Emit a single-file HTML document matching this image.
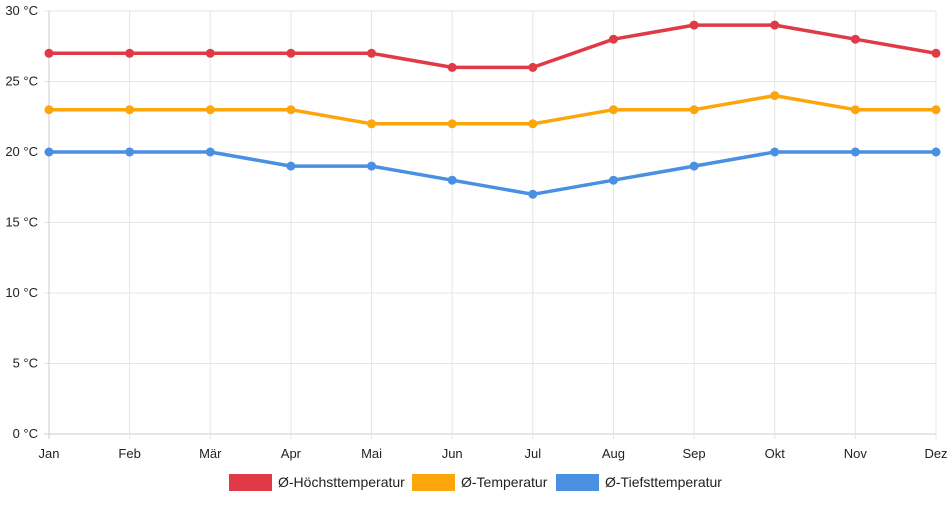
<!DOCTYPE html>
<html><head><meta charset="utf-8"><style>
body{margin:0;background:#fff;font-family:"Liberation Sans",sans-serif;}
svg text{font-family:"Liberation Sans",sans-serif;font-size:13px;fill:#222;}
</style></head><body>
<svg id="c" width="952" height="500"></svg>
<script>
const months=["Jan","Feb","Mär","Apr","Mai","Jun","Jul","Aug","Sep","Okt","Nov","Dez"];
const highs=[27,27,27,27,27,26,26,28,29,29,28,27];
const avgs=[23,23,23,23,22,22,22,23,23,24,23,23];
const lows=[20,20,20,19,19,18,17,18,19,20,20,20];
const yTicks=[0,5,10,15,20,25,30];
const seriesNames=["Ø-Höchsttemperatur","Ø-Temperatur","Ø-Tiefsttemperatur"];
const NS="http://www.w3.org/2000/svg";
const svg=document.getElementById('c');
const x0=49,x1=936,y0=434,y1=11;
const xs=i=>x0+(x1-x0)*i/(months.length-1);
const ys=v=>y0-(y0-y1)*v/30;
function mk(t,a,p){const e=document.createElementNS(NS,t);for(const k in a)e.setAttribute(k,a[k]);(p||svg).appendChild(e);return e;}
yTicks.forEach(v=>{
 const l=mk('line',{x1:x0-5,x2:x1,y1:ys(v),y2:ys(v),stroke:v===0?'#ccc':'#e5e5e5'});
 
 
 const t=mk('text',{x:x0-11,y:ys(v)+4,'text-anchor':'end'});t.textContent=v+' °C';
 
 
});
months.forEach((m,i)=>{
 const l=mk('line',{x1:xs(i),x2:xs(i),y1:y1,y2:y0+5,stroke:i===0?'#ccc':'#e5e5e5'});
 
 
 const t=mk('text',{x:xs(i),y:y0+24,'text-anchor':'middle'});t.textContent=m;
 
 
});
const series=[[highs,'#e03a47'],[avgs,'#fca60c'],[lows,'#4a90e2']];
series.forEach(([d,c],si)=>{
 const p=mk('polyline',{points:d.map((v,i)=>xs(i)+','+ys(v)).join(' '),fill:'none',stroke:c,'stroke-width':3.5,'stroke-linejoin':'round'});
 
 
 d.forEach((v,i)=>{const pt=mk('circle',{cx:xs(i),cy:ys(v),r:4.5,fill:c});
  
  });
});
const lx=[229,412,556];
series.forEach(([d,c],si)=>{
 const g=mk('g',{});
 
 
 mk('rect',{x:lx[si],y:474,width:43,height:17,fill:c},g);
 const t=mk('text',{x:lx[si]+49,y:487},g);t.textContent=seriesNames[si];
 t.style.fontSize='14px';
});
</script>
</body></html>
